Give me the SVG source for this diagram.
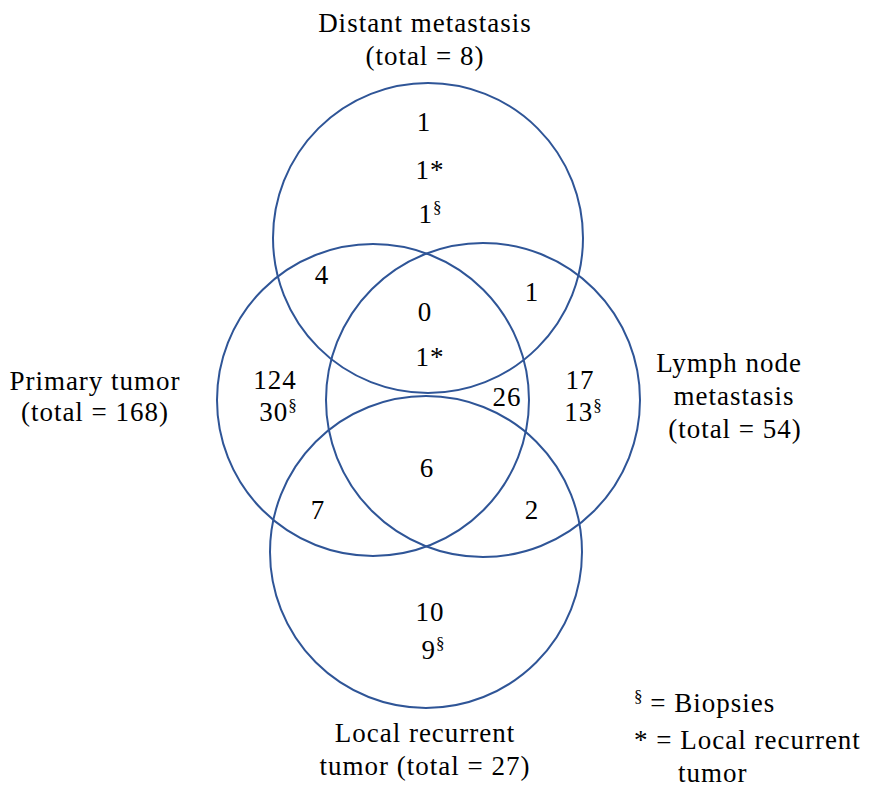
<svg xmlns="http://www.w3.org/2000/svg" width="883" height="787" viewBox="0 0 883 787">
<style>
.c{fill:none;stroke:#2F5597;stroke-width:2}
text{font-family:"Liberation Serif","DejaVu Serif",serif;font-size:27px;letter-spacing:1px;fill:#000;text-anchor:middle}
.s{font-size:17px;letter-spacing:0}
.l{text-anchor:start}
</style>
<rect width="883" height="787" fill="#fff"/>
<g id="circles">
<circle id="distant" class="c" cx="428" cy="238" r="155"/>
<circle id="primary" class="c" cx="373" cy="400" r="156"/>
<circle id="lymph" class="c" cx="483" cy="400" r="157"/>
<circle id="local" class="c" cx="426" cy="552" r="156"/>
</g>
<g id="labels">
<text x="425" y="32">Distant metastasis</text>
<text x="425" y="65">(total = 8)</text>
<text x="95" y="390">Primary tumor</text>
<text x="95" y="421">(total = 168)</text>
<text x="729" y="372">Lymph node</text>
<text x="734" y="405">metastasis</text>
<text x="735" y="438">(total = 54)</text>
<text x="425" y="742">Local recurrent</text>
<text x="425" y="775">tumor (total = 27)</text>
</g>
<g id="counts">
<text x="424" y="131">1</text>
<text x="430" y="179">1*</text>
<text x="430" y="223">1<tspan class="s" dy="-10">§</tspan></text>
<text x="322" y="284">4</text>
<text x="532" y="301">1</text>
<text x="425" y="321">0</text>
<text x="430" y="366">1*</text>
<text x="275" y="389">124</text>
<text x="278" y="421">30<tspan class="s" dy="-10">§</tspan></text>
<text x="507" y="406">26</text>
<text x="580" y="389">17</text>
<text x="583" y="421">13<tspan class="s" dy="-10">§</tspan></text>
<text x="427" y="477">6</text>
<text x="318" y="519">7</text>
<text x="532" y="519">2</text>
<text x="430" y="621">10</text>
<text x="433" y="659">9<tspan class="s" dy="-10">§</tspan></text>
</g>
<g id="legend">
<text x="634" y="712" class="l"><tspan class="s" dy="-10">§</tspan><tspan dy="10"> = Biopsies</tspan></text>
<text x="634" y="749" class="l">* = Local recurrent</text>
<text x="678" y="782" class="l">tumor</text>
</g>
</svg>
